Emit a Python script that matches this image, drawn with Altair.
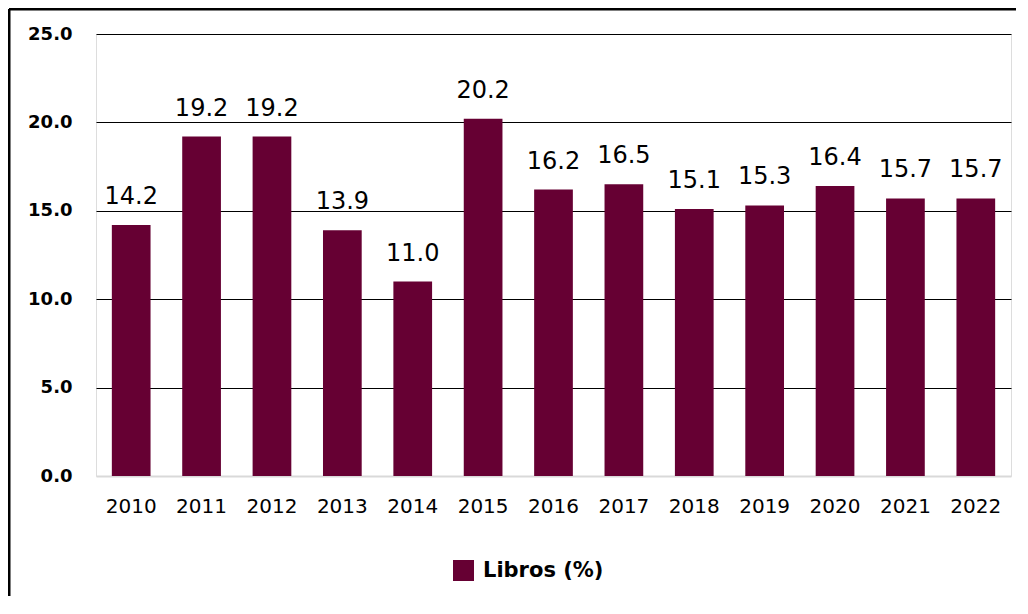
import altair as alt
import pandas as pd

years = ["2010", "2011", "2012", "2013", "2014", "2015", "2016", "2017", "2018", "2019", "2020", "2021", "2022"]
values = [14.2, 19.2, 19.2, 13.9, 11.0, 20.2, 16.2, 16.5, 15.1, 15.3, 16.4, 15.7, 15.7]
series = "Libros (%)"

df = pd.DataFrame({"year": years, "value": values, "serie": [series] * len(years)})

FONT = "DejaVu Sans"
BAR = "#660033"

x_enc = alt.X("year:N", sort=years, title=None,
              scale=alt.Scale(paddingInner=0.45, paddingOuter=0.225),
              axis=alt.Axis(labelAngle=0, labelFontSize=20, labelFont=FONT, labelColor="black",
                            labelPadding=20, ticks=False, domain=False, grid=False))
y_enc = alt.Y("value:Q", title=None,
              scale=alt.Scale(domain=[0, 25], nice=False),
              axis=alt.Axis(values=[0, 5, 10, 15, 20, 25], format=".1f", labelFontSize=18,
                            labelFont=FONT, labelFontWeight="bold", labelColor="black",
                            labelPadding=24, ticks=False, domain=False,
                            gridColor={"condition": {"test": "datum.value === 0", "value": "#d9d9d9"},
                                       "value": "black"},
                            gridWidth={"condition": {"test": "datum.value === 0", "value": 2},
                                       "value": 1}))

bars = alt.Chart(df).mark_bar(color=BAR).encode(
    x=x_enc,
    y=y_enc,
    color=alt.Color("serie:N", scale=alt.Scale(range=[BAR]), title=None,
                    legend=alt.Legend(orient="none", legendX=357, legendY=526, padding=0,
                                      symbolType="square", symbolSize=441, symbolStrokeWidth=0,
                                      labelFontSize=21, labelFont=FONT, labelFontWeight="bold",
                                      labelColor="black", labelOffset=9)),
)

labels = alt.Chart(df).mark_text(baseline="alphabetic", dy=-21, fontSize=24, font=FONT,
                                 color="black").encode(
    x=alt.X("year:N", sort=years),
    y="value:Q",
    text=alt.Text("value:Q", format=".1f"),
)

frame = alt.Chart(alt.Data(values=[{"a": 1}]))
top_line = frame.mark_rule(color="black", strokeWidth=3).encode(
    x=alt.value(-87), x2=alt.value(930), y=alt.value(-25))
left_line = frame.mark_rule(color="black", strokeWidth=3).encode(
    x=alt.value(-87), y=alt.value(-25), y2=alt.value(600))

chart = alt.layer(bars, labels, top_line, left_line).properties(
    width=915, height=442,
    autosize=alt.AutoSizeParams(type="none"),
    padding={"left": 88, "top": 26, "right": 5, "bottom": 120},
).configure_view(stroke="transparent").configure(background="white")

chart.save("out.html", embed_options={"renderer": "svg", "actions": False})
